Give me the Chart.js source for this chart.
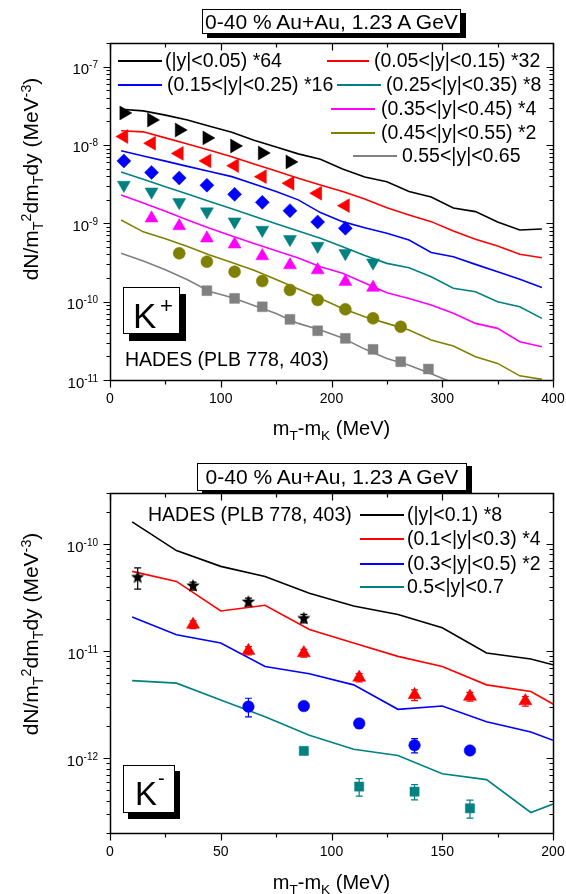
<!DOCTYPE html>
<html>
<head>
<meta charset="utf-8">
<script src="https://cdn.jsdelivr.net/npm/chart.js"></script>
<style>
  html, body { margin: 0; padding: 0; background: #fff; }
  #page { position: relative; width: 566px; height: 894px; overflow: hidden;
          font-family: "Liberation Sans", Arial, Helvetica, sans-serif; color: #000; }
  #page canvas { position: absolute; left: 0; }
  .abs { position: absolute; white-space: nowrap; line-height: 1; }
  .mid { transform: translateY(-50%); }
  .center { transform: translate(-50%, -50%); }
  .titlebox { position: absolute; box-sizing: border-box; border: 1px solid #000; background: #fff;
              font-size: 21px; text-align: center; white-space: nowrap; }
  .tag { position: absolute; box-sizing: border-box; border: 1px solid #000; background: #fff; }
  .tag span { position: absolute; line-height: 1; }
  .lgline { position: absolute; height: 0; border-top: 2px solid #000; }
  .lgtext { position: absolute; font-size: 19.5px; line-height: 1; white-space: nowrap; transform: translateY(-50%); }
  .ytitle { position: absolute; font-size: 21px; line-height: 1; white-space: nowrap;
            transform: translate(-50%, -50%) rotate(-90deg); }
  .xtitle { position: absolute; font-size: 20px; line-height: 1; white-space: nowrap; transform: translate(-50%, -50%); }
  .sb { font-size: 68%; position: relative; top: 0.38em; }
  .sp { font-size: 68%; position: relative; top: -0.5em; }
</style>
</head>
<body>
<div id="page">
  <canvas id="kplusChart" width="566" height="445" style="top:0"></canvas>
  <canvas id="kminusChart" width="566" height="449" style="top:445px"></canvas>

  <div class="titlebox" style="left:202px;top:9px;width:259px;height:25px;line-height:23px;box-shadow:5px 4px 0 #000;">0-40 % Au+Au, 1.23 A GeV</div>
  <div class="titlebox" style="left:197px;top:463px;width:270px;height:28px;line-height:26px;box-shadow:5px 3px 0 #000;">0-40 % Au+Au, 1.23 A GeV</div>

  <div class="tag" style="left:123px;top:287px;width:57px;height:47px;box-shadow:6px 7px 0 #000;">
    <span style="left:9px;top:10px;font-size:35px;">K</span>
    <span style="left:36px;top:7px;font-size:22px;">+</span>
  </div>
  <div class="tag" style="left:123px;top:765px;width:52px;height:48px;box-shadow:5px 6px 0 #000;">
    <span style="left:11px;top:11px;font-size:33px;">K</span>
    <span style="left:34px;top:2px;font-size:20px;">-</span>
  </div>

  <div class="abs mid" style="left:125px;top:360px;font-size:19.5px;">HADES (PLB 778, 403)</div>
  <div class="abs mid" style="left:148px;top:515px;font-size:19.5px;">HADES (PLB 778, 403)</div>

  <div class="xtitle" style="left:331.5px;top:428px;">m<span class="sb">T</span>-m<span class="sb">K</span> (MeV)</div>
  <div class="xtitle" style="left:331.5px;top:882px;">m<span class="sb">T</span>-m<span class="sb">K</span> (MeV)</div>

  <div class="ytitle" style="left:29.5px;top:179px;">dN/m<span class="sb">T</span><span class="sp">2</span>dm<span class="sb">T</span>dy (MeV<span class="sp">-3</span>)</div>
  <div class="ytitle" style="left:29.5px;top:634px;">dN/m<span class="sb">T</span><span class="sp">2</span>dm<span class="sb">T</span>dy (MeV<span class="sp">-3</span>)</div>
</div>

<script>
var FONT = '"Liberation Sans", Arial, Helvetica, sans-serif';

// ---------- K+ panel ----------
var kpMtBins = [12.5, 37.5, 62.5, 87.5, 112.5, 137.5, 162.5, 187.5, 212.5, 237.5, 262.5, 287.5];
var kpData0 = [2.56e-8, 2.08e-8, 1.55e-8, 1.23e-8, 9.7e-9, 7.9e-9, 6.07e-9, null, null, null, null, null];
var kpData1 = [1.28e-8, 1.05e-8, 7.8e-9, 6.25e-9, 5.44e-9, 3.94e-9, 3.24e-9, 2.42e-9, 1.68e-9, null, null, null];
var kpData2 = [6.25e-9, 4.46e-9, 3.79e-9, 3.06e-9, 2.34e-9, 1.85e-9, 1.45e-9, 1.04e-9, 8.63e-10, null, null, null];
var kpData3 = [3.08e-9, 2.53e-9, 1.85e-9, 1.41e-9, 1.05e-9, 8.2e-10, 6.25e-10, 5.13e-10, 4.14e-10, 3.14e-10, null, null];
var kpData4 = [null, 1.16e-9, 9.24e-10, 6.43e-10, 5.39e-10, 3.82e-10, 2.93e-10, 2.53e-10, 1.8e-10, 1.51e-10, null, null];
var kpData5 = [null, null, 4.14e-10, 3.24e-10, 2.41e-10, 1.83e-10, 1.41e-10, 1.05e-10, 7.97e-11, 6.12e-11, 4.78e-11, null];
var kpData6 = [null, null, null, 1.38e-10, 1.1e-10, 8.6e-11, 5.94e-11, 4.25e-11, 3.4e-11, 2.46e-11, 1.71e-11, 1.38e-11];

var kpMtModel = [10, 30, 50, 70, 90, 110, 130, 150, 170, 190, 210, 230, 250, 270, 290, 310, 330, 350, 370, 390];
var kpModel0 = [2.85e-8, 2.72e-8, 2.4e-8, 2.08e-8, 1.73e-8, 1.45e-8, 1.15e-8, 9.4e-9, 7.69e-9, 6.56e-9, 4.93e-9, 3.9e-9, 3.4e-9, 2.55e-9, 2.17e-9, 1.57e-9, 1.41e-9, 1.04e-9, 8.2e-10, 8.45e-10];
var kpModel1 = [1.52e-8, 1.47e-8, 1.23e-8, 1.03e-8, 8.53e-9, 7.09e-9, 5.7e-9, 4.65e-9, 3.76e-9, 3.08e-9, 2.55e-9, 2.04e-9, 1.58e-9, 1.28e-9, 1.05e-9, 7.97e-10, 6.25e-10, 5.13e-10, 4.02e-10, 3.64e-10];
var kpModel2 = [8.41e-9, 7.24e-9, 6.21e-9, 5.33e-9, 4.57e-9, 3.94e-9, 3.17e-9, 2.55e-9, 1.99e-9, 1.37e-9, 1.05e-9, 8.79e-10, 7.45e-10, 6.12e-10, 4.24e-10, 3.74e-10, 2.99e-10, 2.41e-10, 1.93e-10, 1.51e-10];
var kpModel3 = [4.52e-9, 3.64e-9, 2.93e-9, 2.36e-9, 1.9e-9, 1.53e-9, 1.23e-9, 9.9e-10, 8.0e-10, 6.43e-10, 5.02e-10, 3.88e-10, 3.08e-10, 2.71e-10, 2.08e-10, 1.48e-10, 1.34e-10, 9.97e-11, 8.6e-11, 6.12e-11];
var kpModel4 = [2.3e-9, 1.81e-9, 1.42e-9, 1.1e-9, 8.63e-10, 6.9e-10, 5.52e-10, 4.46e-10, 3.6e-10, 2.79e-10, 2.3e-10, 1.73e-10, 1.3e-10, 1.1e-10, 9.06e-11, 7.1e-11, 5.28e-11, 4.56e-11, 3.08e-11, 2.66e-11];
var kpModel5 = [1.1e-9, 7.78e-10, 6.33e-10, 5.06e-10, 3.95e-10, 3.16e-10, 2.52e-10, 1.92e-10, 1.45e-10, 1.1e-10, 8.2e-11, 6.41e-11, 5.28e-11, 4.34e-11, 3.23e-11, 2.71e-11, 1.98e-11, 1.63e-11, 1.13e-11, 1.02e-11];
var kpModel6 = [4.14e-10, 3.3e-10, 2.56e-10, 1.9e-10, 1.35e-10, 1.13e-10, 8.94e-11, 7.05e-11, 5.28e-11, 4.36e-11, 3.43e-11, 2.48e-11, 1.88e-11, 1.54e-11, 1.2e-11, 9.2e-12, null, null, null, null];

var kpLabels = ['(|y|<0.05) *64', '(0.05<|y|<0.15) *32', '(0.15<|y|<0.25) *16', '(0.25<|y|<0.35) *8',
                '(0.35<|y|<0.45) *4', '(0.45<|y|<0.55) *2', '0.55<|y|<0.65'];
var kpXMajor = [0, 100, 200, 300, 400];
var kpXMinor = [50, 150, 250, 350];

// ---------- K- panel ----------
var kmMtBins = [12.5, 37.5, 62.5, 87.5, 112.5, 137.5, 162.5, 187.5];
var kmData0 = [4.89e-11, 4.07e-11, 2.88e-11, 2.02e-11, null, null, null, null];
var kmData1 = [null, 1.77e-11, 1.01e-11, 9.6e-12, 5.67e-12, 3.9e-12, 3.76e-12, 3.42e-12];
var kmData2 = [null, null, 3.03e-12, 3.07e-12, 2.11e-12, 1.32e-12, 1.18e-12, null];
var kmData3 = [null, null, null, 1.17e-12, 5.43e-13, 4.87e-13, 3.4e-13, null];
var kmErr0 = [1.1e-11, 0.35e-11, 0.25e-11, 0.18e-11, null, null, null, null];
var kmErr1 = [null, 0.15e-11, 0.09e-11, 0.08e-11, 0.5e-12, 0.45e-12, 0.35e-12, 0.35e-12];
var kmErr2 = [null, null, 0.6e-12, 0.2e-12, 0.2e-12, 0.2e-12, 0.08e-12, null];
var kmErr3 = [null, null, null, 0.08e-12, 1.0e-13, 0.8e-13, 0.65e-13, null];

var kmMtModel = [10, 30, 50, 70, 90, 110, 130, 150, 170, 190, 200];
var kmModel0 = [1.61e-10, 8.69e-11, 6.19e-11, 4.99e-11, 3.47e-11, 2.64e-11, 2.2e-11, 1.65e-11, 9.6e-12, 8.45e-12, 7.46e-12];
var kmModel1 = [5.56e-11, 4.48e-11, 2.37e-11, 2.68e-11, 1.59e-11, 1.19e-11, 8.93e-12, 7.19e-12, 4.84e-12, 4.19e-12, 3.21e-12];
var kmModel2 = [2.08e-11, 1.42e-11, 1.19e-11, 7.19e-12, 6.14e-12, 4.84e-12, 2.86e-12, 3.07e-12, 2.19e-12, 1.76e-12, 1.47e-12];
var kmModel3 = [5.3e-12, 5.02e-12, 3.5e-12, 2.44e-12, 1.64e-12, 1.21e-12, 1.06e-12, 7.14e-13, 6.31e-13, 3.11e-13, 3.73e-13];

var kmLabels = ['(|y|<0.1) *8', '(0.1<|y|<0.3) *4', '(0.3<|y|<0.5) *2', '0.5<|y|<0.7'];
var kmXMajor = [0, 50, 100, 150, 200];
var kmXMinor = [25, 75, 125, 175];

// ---------- styles ----------
var kpColors = ['#000000', '#ff0000', '#0000ff', '#008080', '#ff00ff', '#808000', '#808080'];
var kpShapes = ['triangle', 'triangle', 'rectRot', 'triangle', 'triangle', 'circle', 'rect'];
var kpRotations = [90, -90, 0, 180, 0, 0, 0];
var kpSizes = [8, 8, 7, 7.5, 7.5, 6, 7];
var kmColors = ['#000000', '#ff0000', '#0000ff', '#008080'];

// legend slots, page pixels
var kpLegendSlots = [
  { x1: 118, x2: 162, tx: 165, y: 61 },
  { x1: 327, x2: 369, tx: 374, y: 61 },
  { x1: 118, x2: 162, tx: 167, y: 85 },
  { x1: 337, x2: 381, tx: 386, y: 85 },
  { x1: 331, x2: 375, tx: 381, y: 109 },
  { x1: 331, x2: 375, tx: 381, y: 133 },
  { x1: 353, x2: 397, tx: 402, y: 156 }
];
var kmLegendSlots = [
  { x1: 360, x2: 404, tx: 407, y: 515 },
  { x1: 360, x2: 404, tx: 407, y: 539 },
  { x1: 360, x2: 404, tx: 407, y: 564 },
  { x1: 360, x2: 404, tx: 407, y: 587 }
];

function toPoints(xs, ys, errs) {
  var pts = [];
  for (var i = 0; i < xs.length; i++) {
    if (ys[i] == null) continue;
    var p = { x: xs[i], y: ys[i] };
    if (errs && errs[i] != null) p.err = errs[i];
    pts.push(p);
  }
  return pts;
}

function makeStar(outer, inner, color) {
  var c = document.createElement('canvas');
  var s = Math.ceil(outer * 2 + 2);
  c.width = s; c.height = s;
  var g = c.getContext('2d');
  g.fillStyle = color;
  g.beginPath();
  for (var i = 0; i < 10; i++) {
    var r = i % 2 ? inner : outer;
    var ang = -Math.PI / 2 + i * Math.PI / 5;
    g.lineTo(s / 2 + r * Math.cos(ang), s / 2 + r * Math.sin(ang));
  }
  g.closePath();
  g.fill();
  return c;
}

function modelSet(label, xs, ys, color) {
  return {
    label: label, data: toPoints(xs, ys), showLine: true, borderColor: color,
    borderWidth: 1.6, pointRadius: 0, tension: 0, fill: false, order: 1
  };
}

function markerSet(xs, ys, errs, color, shape, rot, size) {
  return {
    data: toPoints(xs, ys, errs), showLine: false, pointStyle: shape, rotation: rot,
    pointRadius: size, backgroundColor: color, borderColor: color, borderWidth: 0.5, order: 0
  };
}

// frame with Origin-style ticks: outward on left/bottom, inward on top/right
var originFrame = {
  id: 'originFrame',
  afterDatasetsDraw: function (chart, args, opts) {
    var ctx = chart.ctx, a = chart.chartArea;
    var xs = chart.scales.x, ys = chart.scales.y;
    ctx.save();
    ctx.strokeStyle = '#000';
    ctx.lineWidth = 1.5;
    ctx.strokeRect(Math.round(a.left) + 0.5, Math.round(a.top) + 0.5,
                   Math.round(a.right - a.left), Math.round(a.bottom - a.top));
    ctx.lineWidth = 1.2;
    ctx.beginPath();
    var bottom = Math.round(a.bottom) + 0.5, top = Math.round(a.top) + 0.5;
    var left = Math.round(a.left) + 0.5, right = Math.round(a.right) + 0.5;
    function xTick(v, len) {
      var px = Math.round(xs.getPixelForValue(v)) + 0.5;
      ctx.moveTo(px, bottom); ctx.lineTo(px, bottom + len);
      ctx.moveTo(px, top); ctx.lineTo(px, top + len);
    }
    function yTick(v, len) {
      var py = Math.round(ys.getPixelForValue(v)) + 0.5;
      ctx.moveTo(left, py); ctx.lineTo(left - len, py);
      ctx.moveTo(right, py); ctx.lineTo(right - len, py);
    }
    opts.xMajor.forEach(function (v) { xTick(v, 7); });
    opts.xMinor.forEach(function (v) { xTick(v, 4); });
    var lo = Math.floor(Math.log10(ys.min)), hi = Math.floor(Math.log10(ys.max));
    var decades = [];
    for (var e = lo; e <= hi; e++) {
      var dec = Number('1e' + e);
      if (dec >= ys.min * 0.999 && dec <= ys.max * 1.001) { yTick(dec, 7); decades.push(e); }
      for (var m = 2; m <= 9; m++) {
        var v = m * dec;
        if (v >= ys.min * 0.999 && v <= ys.max * 1.001) yTick(v, 4);
      }
    }
    ctx.stroke();

    ctx.fillStyle = '#000';
    ctx.textAlign = 'center';
    ctx.textBaseline = 'middle';
    ctx.font = '14px ' + FONT;
    opts.xMajor.forEach(function (v) {
      ctx.fillText(String(v), xs.getPixelForValue(v), a.bottom + 19.5);
    });
    ctx.textAlign = 'right';
    ctx.textBaseline = 'alphabetic';
    decades.forEach(function (e) {
      var py = ys.getPixelForValue(Number('1e' + e));
      var xr = a.left - 12;
      ctx.font = '10px ' + FONT;
      var sup = String(e);
      var sw = ctx.measureText(sup).width;
      ctx.fillText(sup, xr, py + 1.5);
      ctx.font = '15px ' + FONT;
      ctx.fillText('10', xr - sw, py + 7.5);
    });
    ctx.restore();
  }
};

var errorBars = {
  id: 'errorBars',
  beforeDatasetsDraw: function (chart) {
    var ctx = chart.ctx, ys = chart.scales.y;
    ctx.save();
    ctx.lineWidth = 1.2;
    chart.data.datasets.forEach(function (ds, di) {
      var meta = chart.getDatasetMeta(di);
      ds.data.forEach(function (p, i) {
        if (p.err == null) return;
        var px = meta.data[i].x;
        var yTop = ys.getPixelForValue(p.y + p.err);
        var yBot = ys.getPixelForValue(Math.max(p.y - p.err, ys.min));
        ctx.strokeStyle = ds.borderColor;
        ctx.beginPath();
        ctx.moveTo(px, yTop); ctx.lineTo(px, yBot);
        ctx.moveTo(px - 3.5, yTop); ctx.lineTo(px + 3.5, yTop);
        ctx.moveTo(px - 3.5, yBot); ctx.lineTo(px + 3.5, yBot);
        ctx.stroke();
      });
    });
    ctx.restore();
  }
};

function buildLegend(labels, colors, slots) {
  var page = document.getElementById('page');
  labels.forEach(function (text, i) {
    var s = slots[i];
    var line = document.createElement('div');
    line.className = 'lgline';
    line.style.left = s.x1 + 'px';
    line.style.top = (s.y - 1) + 'px';
    line.style.width = (s.x2 - s.x1) + 'px';
    line.style.borderTopColor = colors[i];
    page.appendChild(line);
    var t = document.createElement('div');
    t.className = 'lgtext';
    t.style.left = s.tx + 'px';
    t.style.top = s.y + 'px';
    t.textContent = text;
    page.appendChild(t);
  });
}

function panelOptions(xMax, yMin, yMax, padding, xMajor, xMinor) {
  return {
    responsive: false,
    animation: false,
    events: [],
    layout: { padding: padding },
    plugins: {
      legend: { display: false },
      tooltip: { enabled: false },
      originFrame: { xMajor: xMajor, xMinor: xMinor }
    },
    scales: {
      x: { type: 'linear', min: 0, max: xMax, display: false },
      y: { type: 'logarithmic', min: yMin, max: yMax, display: false }
    }
  };
}

// K+ chart
var kpModels = [kpModel0, kpModel1, kpModel2, kpModel3, kpModel4, kpModel5, kpModel6];
var kpDatas = [kpData0, kpData1, kpData2, kpData3, kpData4, kpData5, kpData6];
var kpSets = [];
kpDatas.forEach(function (d, i) {
  kpSets.push(markerSet(kpMtBins, d, null, kpColors[i], kpShapes[i], kpRotations[i], kpSizes[i]));
});
kpModels.forEach(function (m, i) {
  kpSets.push(modelSet(kpLabels[i], kpMtModel, m, kpColors[i]));
});

new Chart(document.getElementById('kplusChart'), {
  type: 'scatter',
  data: { datasets: kpSets },
  options: panelOptions(400, 1e-11, 2e-7, { left: 110, right: 13, top: 43, bottom: 65 }, kpXMajor, kpXMinor),
  plugins: [errorBars, originFrame]
});

// K- chart
var kmModels = [kmModel0, kmModel1, kmModel2, kmModel3];
var kmSets = [
  markerSet(kmMtBins, kmData0, kmErr0, kmColors[0], makeStar(7, 3, kmColors[0]), 0, 7),
  markerSet(kmMtBins, kmData1, kmErr1, kmColors[1], 'triangle', 0, 7.5),
  markerSet(kmMtBins, kmData2, kmErr2, kmColors[2], 'circle', 0, 5.8),
  markerSet(kmMtBins, kmData3, kmErr3, kmColors[3], 'rect', 0, 6.5)
];
kmModels.forEach(function (m, i) {
  kmSets.push(modelSet(kmLabels[i], kmMtModel, m, kmColors[i]));
});

new Chart(document.getElementById('kminusChart'), {
  type: 'scatter',
  data: { datasets: kmSets },
  options: panelOptions(200, 2e-13, 3e-10, { left: 110, right: 13, top: 48, bottom: 61 }, kmXMajor, kmXMinor),
  plugins: [errorBars, originFrame]
});

buildLegend(kpLabels, kpColors, kpLegendSlots);
buildLegend(kmLabels, kmColors, kmLegendSlots);
</script>
</body>
</html>
